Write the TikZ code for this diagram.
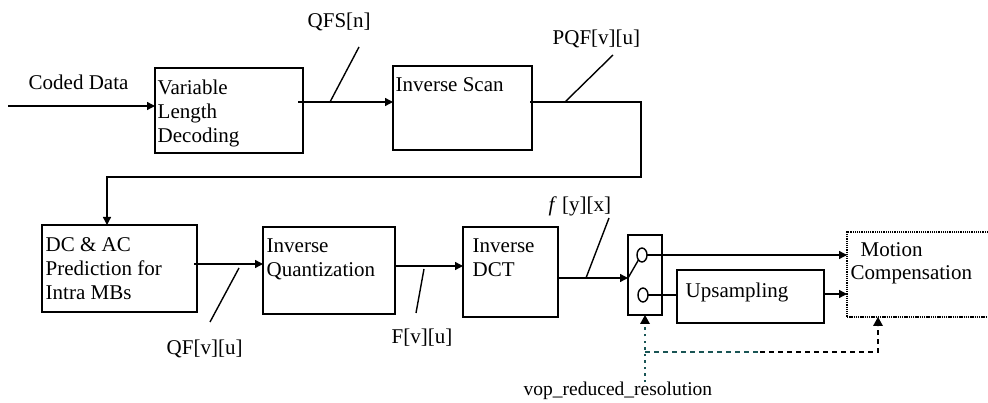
\documentclass[tikz,border=0pt]{standalone}
\usepackage{fontspec}
\setmainfont{Liberation Serif}
\usetikzlibrary{arrows.meta,shapes.geometric}
\definecolor{dteal}{RGB}{25,85,85}
\begin{document}
\begin{tikzpicture}[x=1pt,y=-1pt,
  every path/.style={line width=1.4pt},
  box/.style={draw,rectangle,line width=1.4pt,inner sep=0pt,outer sep=0pt},
  txt/.style={font=\fontsize{21}{24}\selectfont,inner sep=0pt,anchor=base west,align=left},
  arr/.style={-{Triangle[length=8pt,width=8pt]}},
  sw circ/.style={draw,ellipse,line width=1.4pt,minimum width=10pt,minimum height=14pt,inner sep=0pt,outer sep=0pt}
]
\useasboundingbox (0,0) rectangle (988,403);

% boxes
\node[box,minimum width=148pt,minimum height=85pt] (vld) at (229,110.5) {};
\node[box,minimum width=139pt,minimum height=84pt] (scan) at (462.5,108) {};
\node[box,minimum width=155pt,minimum height=87pt] (dcac) at (119.5,268.5) {};
\node[box,minimum width=132pt,minimum height=87pt] (iq) at (329,270.5) {};
\node[box,minimum width=95pt,minimum height=90pt] (idct) at (510.5,272) {};
\node[box,minimum width=34pt,minimum height=80pt] (sw) at (645,275) {};
\node[box,minimum width=147pt,minimum height=53pt] (up) at (750.5,296.5) {};
\node[draw,rectangle,line width=2.2pt,dash pattern=on 1.3pt off 0.9pt,inner sep=0pt,outer sep=0pt,minimum width=160pt,minimum height=85pt] (mc) at (927,274.5) {};
\node[sw circ] (c1) at (642,255) {};
\node[sw circ] (c2) at (643,295) {};

% texts (multi-line nodes: base = last line)
\node[txt] (tcd) at (28,90) {Coded Data};
\node[txt] (tvld) at (157,143) {Variable\\Length\\Decoding};
\node[txt] (tqfs) at (307,28) {QFS[n]};
\node[txt] (tscan) at (395,92) {Inverse Scan};
\node[txt] (tpqf) at (552,45) {PQF[v][u]};
\node[txt] (tdcac) at (45,300) {DC \& AC\\Prediction for\\Intra MBs};
\node[txt] (tiq) at (266,277) {Inverse\\Quantization};
\node[txt] (tqf) at (166,355) {QF[v][u]};
\node[txt] (tf) at (391,343) {F[v][u]};
\node[txt] (tidct) at (472,277) {Inverse\\DCT};
\node[txt] (tfyx) at (548,212) {\textit{f} [y][x]};
\node[txt] (tup) at (685,298) {Upsampling};
\node[txt] (tmc) at (850,280) {\hspace*{10pt}Motion\\Compensation};
\node[txt,font=\fontsize{19.5}{24}\selectfont] (tvop) at (523,395) {vop\_reduced\_resolution};

% connectors
\coordinate (cdin) at (8,106);
\draw[arr] (cdin) -- (cdin -| vld.west);

\coordinate (a1) at ([xshift=-5pt,yshift=8.5pt]vld.east);
\draw[arr] (a1) -- (a1 -| scan.west);
\coordinate (s1) at (330,102); \coordinate (s2) at (359,47);
\draw (s1) -- (s2);

\coordinate (p1) at ([xshift=-2pt,yshift=6pt]scan.east);
\coordinate (t1) at (641,102);
\coordinate (t2) at (641,177);
\coordinate (d1) at ([xshift=-12.5pt]dcac.north);
\draw[arr] (p1) -- (t1) -- (t2) -- (t2 -| d1) -- (d1);
\coordinate (s3) at (565,102); \coordinate (s4) at (613,55);
\draw (s3) -- (s4);

\coordinate (q1) at ([xshift=-3pt,yshift=4.5pt]dcac.east);
\draw[arr] (q1) -- (q1 -| iq.west);
\coordinate (s5) at (239,268); \coordinate (s6) at (210,322);
\draw (s5) -- (s6);

\coordinate (f1) at ([yshift=4.5pt]iq.east);
\draw[arr] (f1) -- (f1 -| idct.west);
\coordinate (s7) at (424,269); \coordinate (s8) at (416,313);
\draw (s7) -- (s8);

\coordinate (g1) at ([yshift=-6pt]idct.east);
\draw[arr] (g1) -- (g1 -| sw.west);
\coordinate (s9) at (586,278); \coordinate (s10) at (609,218);
\draw (s9) -- (s10);

\draw (g1 -| sw.west) -- (c1.south west);
\draw[arr] (c1.east) -- (c1.east -| mc.west);
\draw (c2.east) -- (c2.east -| up.west);
\coordinate (u1) at ([yshift=2.5pt]up.east);
\draw[arr] (u1) -- (u1 -| mc.west);

% vop_reduced_resolution control
\coordinate (v0) at (645,382);
\coordinate (h0) at (645,352);
\coordinate (h1) at (878,352);
\draw[dteal,line width=2.6pt,dash pattern=on 2.5pt off 4pt] (v0) -- ([yshift=-9pt]sw.south);
\fill[black] (sw.south) -- ++(-5,9) -- ++(10,0) -- cycle;
\draw[dteal,line width=2.4pt,dash pattern=on 5pt off 4pt] (h0) -- (760,352);
\draw[black,line width=2.4pt,dash pattern=on 5pt off 4pt] (760,352) -- (h1) -- ([yshift=-9pt]h1 |- mc.south);
\fill[black] (h1 |- mc.south) -- ++(-5,9) -- ++(10,0) -- cycle;
\end{tikzpicture}
\end{document}
